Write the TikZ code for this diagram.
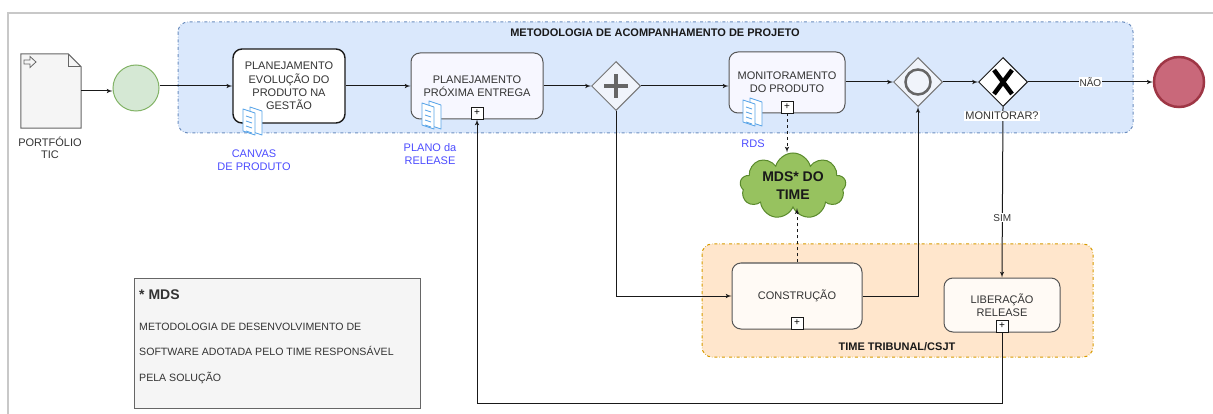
\documentclass[tikz,border=0pt]{standalone}
\usepackage{fontspec}
\setmainfont{Liberation Sans}
\usepackage{tikz}
\usetikzlibrary{shapes,arrows,positioning,calc,shapes.geometric,shapes.symbols}

\definecolor{poolblue}{HTML}{DAE8FC}
\definecolor{poolblueline}{HTML}{6C8EBF}
\definecolor{poolorange}{HTML}{FFE6CC}
\definecolor{poolorangeline}{HTML}{D79B00}
\definecolor{startfill}{HTML}{D5E8D4}
\definecolor{startline}{HTML}{82B366}
\definecolor{endfill}{HTML}{C9687A}
\definecolor{endline}{HTML}{9E3645}
\definecolor{cloudfill}{HTML}{97C25F}
\definecolor{cloudline}{HTML}{5A8A2C}
\definecolor{taskline}{HTML}{555555}
\definecolor{textgray}{HTML}{333333}
\definecolor{labelblue}{HTML}{4C4CFF}
\definecolor{iconblue}{HTML}{5AA5E8}
\definecolor{gatefill}{HTML}{F0F4FB}
\definecolor{gatesign}{HTML}{666666}
\definecolor{framegray}{HTML}{C8C8C8}
\definecolor{legendfill}{HTML}{F5F5F5}
\definecolor{legendline}{HTML}{666666}

\begin{document}
\begin{tikzpicture}[x=1pt,y=-1pt,>=latex',
    flow/.style={->,line width=1pt,draw=black!90},
    pool/.style={rounded corners=10pt,dash dot,line width=1pt},
    pooltitle/.style={font=\bfseries\fontsize{11}{13}\selectfont,text=black!90},
    task/.style={draw=taskline,rounded corners=9pt,line width=1pt,align=center,
      font=\fontsize{11}{13.4}\selectfont,text=textgray,inner sep=0pt},
    marker/.style={draw=black!90,fill=white,line width=0.8pt,minimum size=12pt,inner sep=0pt,
      font=\fontsize{10}{10}\selectfont,anchor=south},
    gateway/.style={diamond,aspect=1,minimum size=49pt,inner sep=0pt,line width=1pt},
    event/.style={circle,inner sep=0pt},
    doclabel/.style={align=center,font=\fontsize{11}{13.4}\selectfont,text=labelblue},
    flowlabel/.style={fill=white,inner sep=1pt,font=\fontsize{10}{11}\selectfont,text=textgray},
    docicon/.style={draw=iconblue,fill=white,line width=0.8pt,line join=round}]
  \useasboundingbox (0,0) rectangle (1213,414);
  % frame
  \draw[framegray,line width=2pt] (8,414) -- (8,13) -- (1213,13);

  % pools
  \draw[pool,fill=poolblue,draw=poolblueline] (178,22) rectangle (1133,133);
  \node[pooltitle] (titlemet) at (655,33) {METODOLOGIA DE ACOMPANHAMENTO DE PROJETO};
  \draw[pool,fill=poolorange,draw=poolorangeline] (702,244) rectangle (1093,357);
  \node[pooltitle] (titletime) at (897,347) {TIME TRIBUNAL/CSJT};

  % portfolio document
  \node[minimum width=60pt,minimum height=74pt,inner sep=0pt] (port) at (51,91) {};
  \draw[fill=legendfill,draw=legendline,line width=1pt]
    (port.north west) -- ([xshift=-13pt]port.north east) -- ([yshift=-13pt]port.north east)
    -- (port.south east) -- (port.south west) -- cycle;
  \draw[draw=legendline,line width=1pt] ([xshift=-13pt]port.north east) -- ++(0,13) -- ++(13,0);
  \draw[draw=legendline,line width=0.8pt] (24,60) -- (30,60) -- (30,56.5) -- (36,62) -- (30,67.5)
    -- (30,64) -- (24,64) -- cycle;
  \node[align=center,font=\fontsize{11}{12.5}\selectfont,text=textgray] (portlabel) at (50,148)
    {PORTFÓLIO\\TIC};

  % events and gateways
  \node[event,minimum size=46pt,fill=startfill,draw=startline,line width=1pt] (start) at (136,88) {};
  \node[task,draw=black!90,line width=1.4pt,fill=white,minimum width=112pt,minimum height=74pt]
    (evol) at (289,86) {PLANEJAMENTO\\EVOLUÇÃO DO\\PRODUTO NA\\GESTÃO};
  \node[task,fill=blue!3,minimum width=132pt,minimum height=66pt]
    (entrega) at (477,86) {PLANEJAMENTO\\PRÓXIMA ENTREGA};
  \node[marker] (entregaplus) at (entrega.south) {+};
  \node[gateway,draw=gatesign!90,fill=gatefill] (par) at (616,86) {};
  \draw[gatesign,line width=4.5pt] ([xshift=-12pt]par.center) -- ([xshift=12pt]par.center)
    ([yshift=-12pt]par.center) -- ([yshift=12pt]par.center);
  \node[task,fill=blue!3,minimum width=116pt,minimum height=61pt]
    (monit) at (787,82.5) {MONITORAMENTO\\DO PRODUTO};
  \node[marker] (monitplus) at (monit.south) {+};
  \node[gateway,draw=gatesign!90,fill=gatefill] (incl) at (918,82) {};
  \draw[gatesign,line width=2.5pt] (incl.center) circle (12.5pt);
  \node[gateway,draw=black!90,fill=white] (excl) at (1003,82) {};
  \draw[black,line width=4.5pt] ([shift={(-9pt,-12pt)}]excl.center) -- ([shift={(9pt,12pt)}]excl.center)
    ([shift={(-9pt,12pt)}]excl.center) -- ([shift={(9pt,-12pt)}]excl.center);
  \node[event,minimum size=50pt,fill=endfill,draw=endline,line width=2.5pt] (end) at (1179,82) {};

  % team tasks
  \node[task,fill=orange!4,minimum width=130pt,minimum height=66pt] (constr) at (797,296) {CONSTRUÇÃO};
  \node[marker] (constrplus) at (constr.south) {+};
  \node[task,fill=orange!4,minimum width=116pt,minimum height=54pt] (liber) at (1002,305) {LIBERAÇÃO\\RELEASE};
  \node[marker] (liberplus) at (liber.south) {+};

  % cloud
  \node[cloud,cloud puffs=9,cloud ignores aspect,draw=cloudline,fill=cloudfill,line width=1pt,
    minimum width=106pt,minimum height=66pt,inner sep=0pt,align=center,
    font=\bfseries\fontsize{14}{18}\selectfont,text=black!90] (mds) at (793,186) {MDS* DO\\TIME};

  % document icons
  \foreach \x/\y in {252/121, 431/115, 752/112} {
    \draw[docicon] (\x-2,\y-14) -- (\x+10,\y-10) -- (\x+10,\y+14) -- (\x-2,\y+10) -- cycle;
    \draw[docicon] (\x-9,\y-12) -- (\x+3,\y-8) -- (\x+3,\y+14) -- (\x-9,\y+10) -- cycle;
    \foreach \k in {0,1,2,3}
      \draw[iconblue,line width=0.8pt] (\x-6,\y-5+5*\k) -- (\x+0,\y-3+5*\k);
  }
  \node[doclabel] (canvas) at (254,160) {CANVAS\\DE PRODUTO};
  \node[doclabel] (plano) at (430,154) {PLANO da\\RELEASE};
  \node[doclabel] (rds) at (753,144) {RDS};

  % legend
  \node[draw=legendline,fill=legendfill,line width=1pt,minimum width=286pt,minimum height=130pt,
    anchor=north west] (legend) at (134,278) {};
  \node[anchor=north west,align=left,inner sep=0pt,text=textgray,font=\fontsize{10.6}{25.5}\selectfont]
    (legendtext) at (139,290)
    {{\bfseries\fontsize{14}{14}\selectfont * MDS}\\[5pt]
     METODOLOGIA DE DESENVOLVIMENTO DE\\
     SOFTWARE ADOTADA PELO TIME RESPONSÁVEL\\
     PELA SOLUÇÃO};

  % connectors
  \draw[flow] (port.east) -- (port.east -| start.west);
  \draw[flow] (start.east |- evol.west) -- (evol.west);
  \draw[flow] (evol) -- (entrega);
  \draw[flow] (entrega) -- (par);
  \draw[flow] (par.east) -- (par.east -| monit.west);
  \draw[flow] (monit.east |- incl.west) -- (incl.west);
  \draw[flow] (incl) -- (excl);
  \draw[flow] (excl) -- (end) node[flowlabel,pos=0.5] (nao) {NÃO};
  \draw[flow] (par.south) |- (constr.west);
  \draw[flow] (constr.east) -| (incl.south);
  \draw[flow] (excl.south) -- (liber.north) node[flowlabel,pos=0.65] (sim) {SIM};
  \coordinate (loopback) at (entregaplus.south |- 0,403);
  \draw[flow] (liberplus.south) |- (loopback) -- (entregaplus.south);
  \draw[flow,dashed] (monitplus.south) -- (monitplus.south |- mds.north);
  \draw[flow,dashed] (constr.north) -- (constr.north |- mds.south);
  \node[flowlabel,font=\fontsize{11}{12}\selectfont] (monitorar) at (1002,116) {MONITORAR?};
\end{tikzpicture}
\end{document}
